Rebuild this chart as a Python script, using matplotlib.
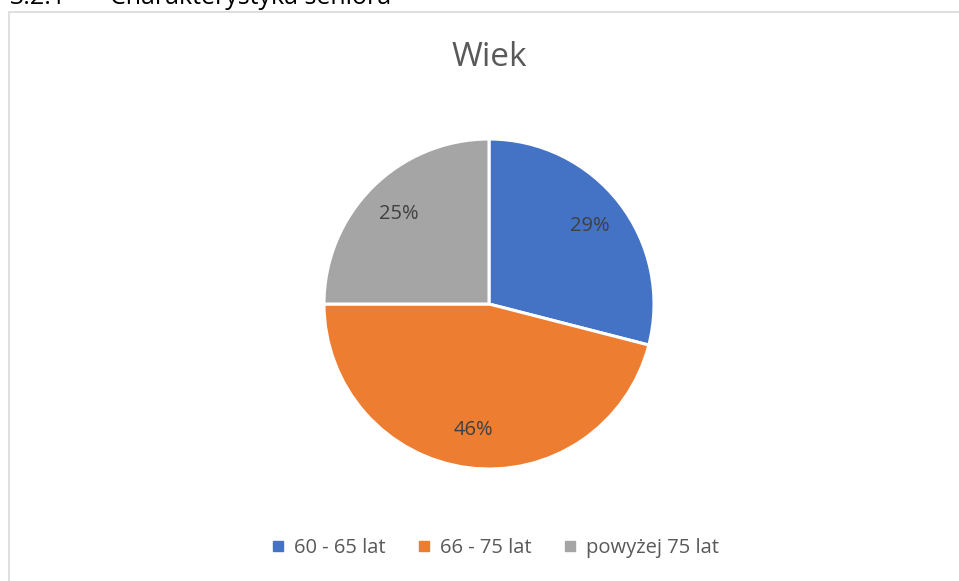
import matplotlib.pyplot as plt
from matplotlib.patches import Rectangle
from matplotlib.lines import Line2D

# data
categories = ['60 - 65 lat', '66 - 75 lat', 'powyżej 75 lat']
shares = [29, 46, 25]
colors = ['#4472C4', '#ED7D31', '#A5A5A5']
title = 'Wiek'
heading_num = '3.2.1'
heading = 'Charakterystyka seniora'

plt.rcParams['font.family'] = ['Open Sans', 'DejaVu Sans']

W, H = 959, 581
fig = plt.figure(figsize=(W / 100, H / 100), dpi=100)

# chart frame (cut off on the right and bottom)
fig.patches.append(Rectangle((9 / W, -0.1), 2.0, 1.1 - 12 / H,
                             transform=fig.transFigure, fill=False,
                             edgecolor='#D9D9D9', linewidth=1.2))

# heading of the document, mostly cropped above the picture
fig.text(10 / W, 1 - 4 / H, heading_num, fontsize=18, color='black',
         ha='left', va='baseline')
fig.text(110 / W, 1 - 4 / H, heading, fontsize=18, color='black',
         ha='left', va='baseline')

fig.text(489 / W, 1 - 57 / H, title, fontsize=24, color='#595959',
         ha='center', va='center')

cx, cy, r = 489, 304, 165
ax = fig.add_axes([(cx - r) / W, (H - cy - r) / H, 2 * r / W, 2 * r / H])
wedges, texts, autotexts = ax.pie(
    shares, colors=colors, startangle=90, counterclock=False,
    autopct='%1.0f%%', pctdistance=0.77,
    wedgeprops=dict(edgecolor='white', linewidth=2.2),
    textprops=dict(fontsize=14.5, color='#404040'))
ax.set_xlim(-1.0, 1.0)
ax.set_ylim(-1.0, 1.0)
ax.set_aspect('equal')
ax.axis('off')

handles = [Line2D([], [], marker='s', linestyle='none', markersize=7,
                  markerfacecolor=c, markeredgecolor=c) for c in colors]
fig.legend(handles, categories, loc='center', bbox_to_anchor=(495 / W, 1 - 548 / H),
           ncol=3, frameon=False, fontsize=14.5, labelcolor='#595959',
           handlelength=0.7, handletextpad=0.4, columnspacing=1.6)

fig.savefig('out.png', dpi=100)
